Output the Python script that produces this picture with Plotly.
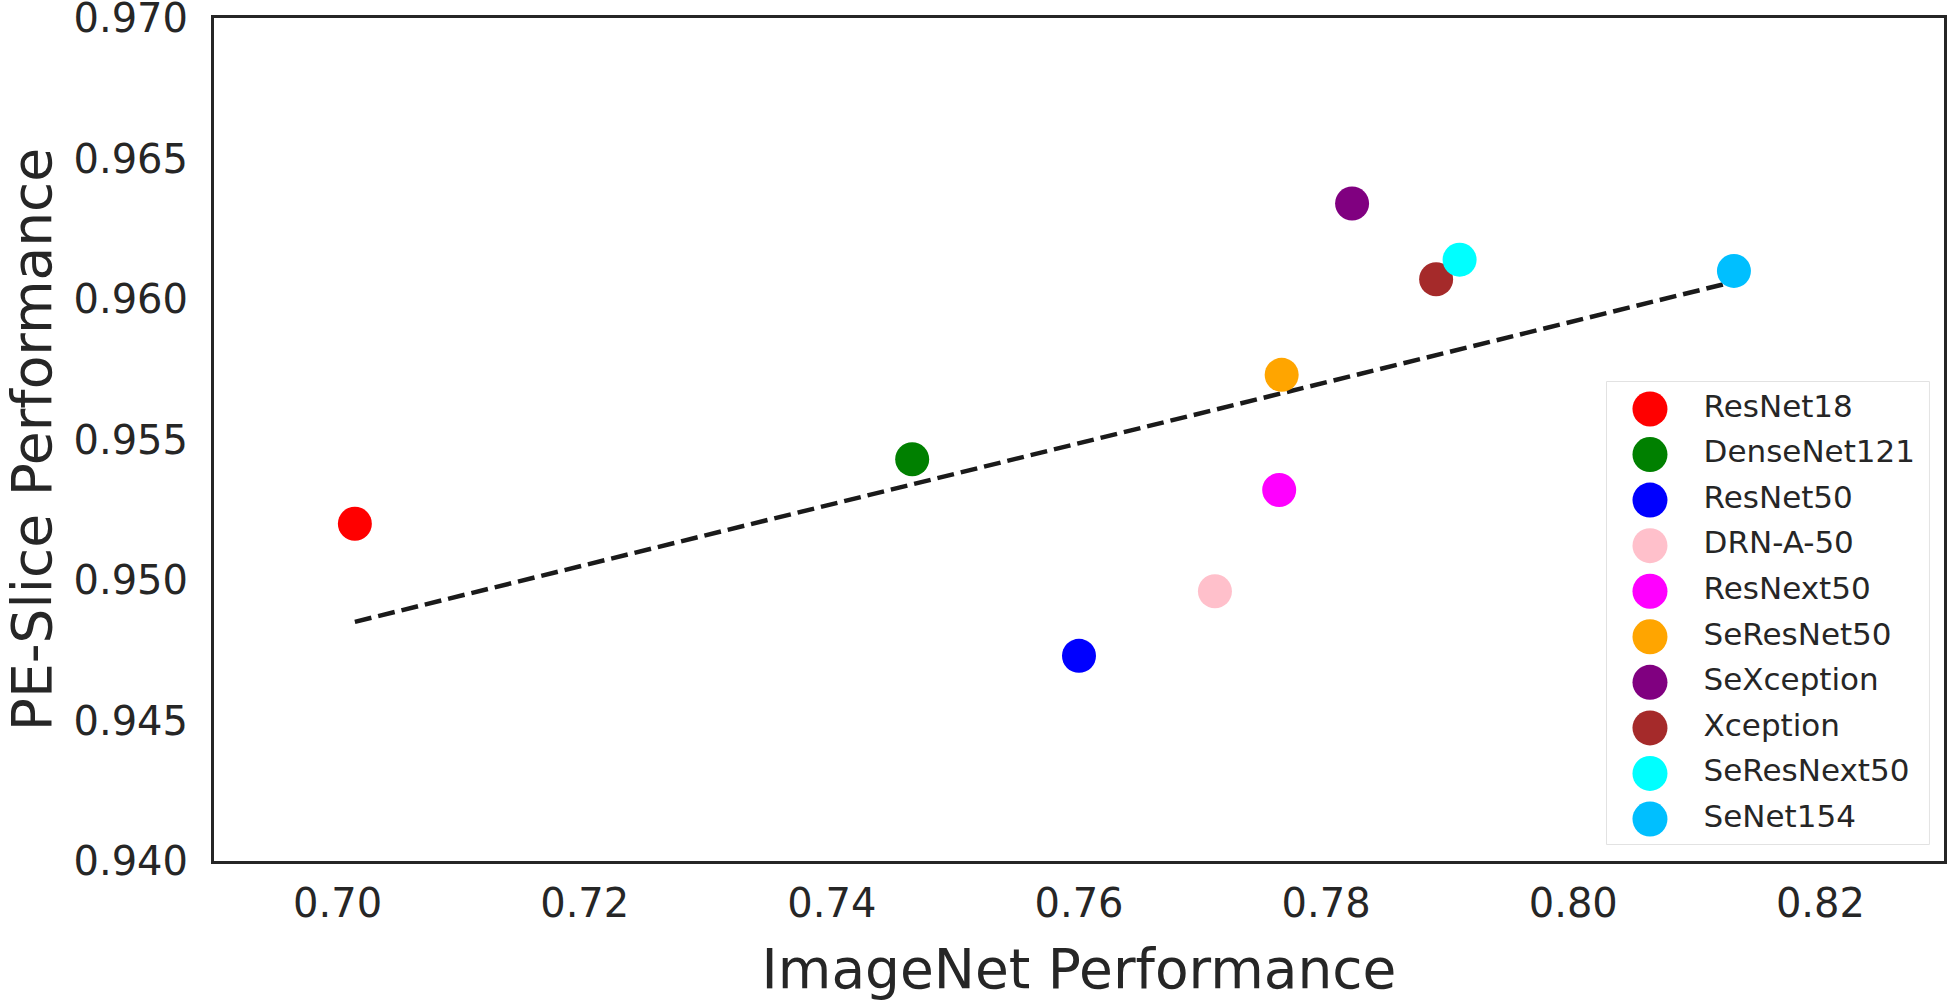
import numpy as np
import plotly.graph_objects as go

models = ["ResNet18", "DenseNet121", "ResNet50", "DRN-A-50", "ResNext50",
          "SeResNet50", "SeXception", "Xception", "SeResNext50", "SeNet154"]
imagenet = [0.7014, 0.7465, 0.7600, 0.7710, 0.7762,
            0.7764, 0.7821, 0.7889, 0.7908, 0.8130]
pe_slice = [0.9520, 0.9543, 0.9473, 0.9496, 0.9532,
            0.9573, 0.9634, 0.9607, 0.9614, 0.9610]
colors = ["#ff0000", "#008000", "#0000ff", "#ffc0cb", "#ff00ff",
          "#ffa500", "#800080", "#a52a2a", "#00ffff", "#00bfff"]
x_ticks = [0.70, 0.72, 0.74, 0.76, 0.78, 0.80, 0.82]
y_ticks = [0.940, 0.945, 0.950, 0.955, 0.960, 0.965, 0.970]

TXT = "#262626"
FONT = "DejaVu Sans"

fig = go.Figure()

# least-squares trend line
slope, intercept = np.polyfit(imagenet, pe_slice, 1)
fit_x = [min(imagenet), max(imagenet)]
fit_y = [slope * v + intercept for v in fit_x]
fig.add_trace(go.Scatter(x=fit_x, y=fit_y, mode="lines",
                         line=dict(color="#1a1a1a", width=4.5, dash="17px,7px"),
                         showlegend=False, hoverinfo="skip"))

for name, xv, yv, c in zip(models, imagenet, pe_slice, colors):
    fig.add_trace(go.Scatter(x=[xv], y=[yv], mode="markers", name=name,
                             marker=dict(color=c, size=34, line=dict(width=0)),
                             showlegend=False))

# custom legend (large markers) on its own small axes
rows = list(range(len(models)))
fig.add_trace(go.Scatter(x=[0.1335] * len(models), y=rows, mode="markers",
                         marker=dict(color=colors, size=35, line=dict(width=0)),
                         xaxis="x2", yaxis="y2", showlegend=False, hoverinfo="skip"))
fig.add_trace(go.Scatter(x=[0.30] * len(models), y=rows, mode="text", text=models,
                         textposition="middle right",
                         textfont=dict(family=FONT, size=31, color=TXT),
                         xaxis="x2", yaxis="y2", showlegend=False, hoverinfo="skip"))

axis_common = dict(showgrid=False, zeroline=False, showline=True, mirror=True,
                   linecolor=TXT, linewidth=3, ticks="", automargin=False,
                   ticklabeloverflow="allow",
                   tickfont=dict(family=FONT, size=40, color=TXT))

fig.update_layout(
    width=1950, height=1001,
    margin=dict(l=214, r=6, t=18, b=140),
    paper_bgcolor="white", plot_bgcolor="white",
    font=dict(family=FONT, color=TXT),
    xaxis=dict(range=[0.69, 0.83], tickvals=x_ticks, tickformat=".2f",
               ticklabelstandoff=5,
               title=dict(text="ImageNet Performance",
                          font=dict(family=FONT, size=55, color=TXT), standoff=25),
               **axis_common),
    yaxis=dict(range=[0.94, 0.9700001], tickvals=y_ticks, tickformat=".3f",
               ticklabelstandoff=15,
               title=dict(text="PE-Slice Performance",
                          font=dict(family=FONT, size=55, color=TXT), standoff=56),
               **axis_common),
    xaxis2=dict(domain=[0.8052, 0.9913], range=[0, 1], visible=False,
                anchor="y2", fixedrange=True),
    yaxis2=dict(domain=[0.0202, 0.5682], range=[9.548, -0.592], visible=False,
                anchor="x2", fixedrange=True),
    shapes=[dict(type="rect", xref="paper", yref="paper",
                 x0=0.8052, x1=0.9913, y0=0.0202, y1=0.5682,
                 line=dict(color="#d9d9d9", width=1.5), fillcolor="white",
                 layer="below")],
    showlegend=False,
)

fig.write_html("out.html", config={"displayModeBar": False},
               post_script="document.body.style.margin='0';"
                           "document.body.style.overflow='hidden';")
